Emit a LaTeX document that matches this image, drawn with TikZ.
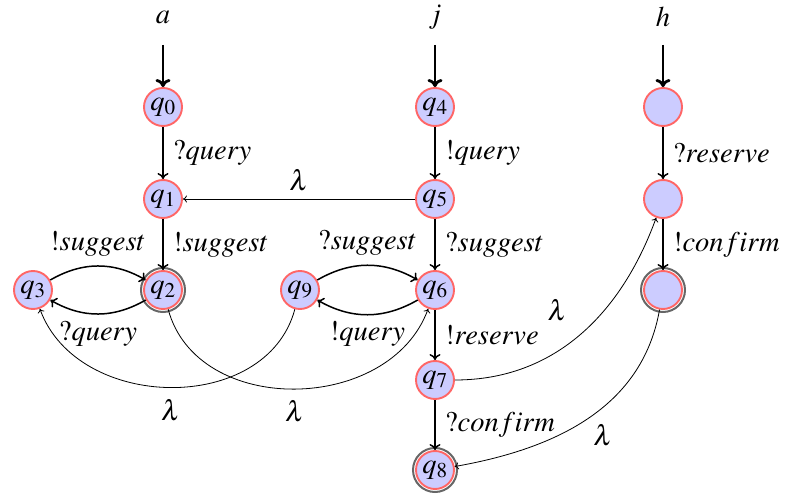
\documentclass[tikz,border=0pt]{standalone}
\usepackage{mathptmx}
\usetikzlibrary{arrows.meta}
\begin{document}
\begin{tikzpicture}[x=1pt,y=-1pt,
  every node/.style={font=\fontsize{28.5}{32}\selectfont},
  st/.style={circle, draw=red!60, fill=blue!20, line width=1.9pt, minimum size=38pt, inner sep=0pt},
  accring/.style={draw=black!60, line width=2pt},
  tr/.style={-{To[length=6pt,width=11pt]}, line width=1.5pt},
  lam/.style={-{To[length=4pt,width=7pt]}, line width=0.8pt},
  ini/.style={-{To[length=8pt,width=15pt]}, line width=2.8pt},
  ttl/.style={inner sep=0pt}]
\useasboundingbox (0,0) rectangle (785,497);
% titles
\node[ttl] (ta) at (163,17) {$a$};
\node[ttl] (tj) at (435,17) {$j$};
\node[ttl] (th) at (663,17) {$h$};
\coordinate (ia) at (163,45);
\coordinate (ij) at (435,45);
\coordinate (ih) at (663,45);
% states
\node[st] (q0) at (163,107) {$q_0$};
\node[st] (q1) at (163,199) {$q_1$};
\draw[accring] (163,290) circle (22);
\node[st] (q2) at (163,290) {$q_2$};
\node[st] (q3) at (33,290) {$q_3$};
\node[st] (q4) at (435,107) {$q_4$};
\node[st] (q5) at (435,199) {$q_5$};
\node[st] (q6) at (435,290) {$q_6$};
\node[st] (q7) at (435,380) {$q_7$};
\draw[accring] (435,470) circle (22);
\node[st] (q8) at (435,470) {$q_8$};
\node[st] (q9) at (300,290) {$q_9$};
\node[st] (h0) at (663,107) {};
\node[st] (h1) at (663,199) {};
\draw[accring] (663,290) circle (22);
\node[st] (h2) at (663,290) {};
% initial
\draw[ini] (ia) -- (q0);
\draw[ini] (ij) -- (q4);
\draw[ini] (ih) -- (h0);
% transitions
\draw[tr] (q0) -- node[right=6pt]{$?query$} (q1);
\draw[tr] (q1) -- node[right=6pt]{$!suggest$} (q2);
\draw[tr] (q3) to[bend left=30] node[above=6pt]{$!suggest$} (q2);
\draw[tr] (q2) to[bend left=30] node[below=3pt]{$?query$} (q3);
\draw[tr] (q4) -- node[right=6pt]{$!query$} (q5);
\draw[tr] (q5) -- node[right=6pt]{$?suggest$} (q6);
\draw[tr] (q9) to[bend left=30] node[above=6pt]{$?suggest$} (q6);
\draw[tr] (q6) to[bend left=30] node[below=3pt]{$!query$} (q9);
\draw[tr] (q6) -- node[right=6pt]{$!reserve$} (q7);
\draw[tr] (q7) -- node[right=6pt]{$?confirm$} (q8);
\draw[tr] (h0) -- node[right=6pt]{$?reserve$} (h1);
\draw[tr] (h1) -- node[right=6pt]{$!confirm$} (h2);
% lambda transitions
\draw[lam] (q5) -- node[above=4pt]{$\lambda$} (q1);
\draw[lam] (q9) to[out=-105,in=-70,looseness=1.1] node[below=8pt]{$\lambda$} (q3);
\draw[lam] (q2) to[out=-75,in=-110,looseness=1.1] node[below=8pt]{$\lambda$} (q6);
\draw[lam] (q7) to[out=0,in=-110,looseness=1] node[above left=10pt]{$\lambda$} (h1);
\draw[lam] (h2) to[out=-100,in=10,looseness=1] node[below right=2pt]{$\lambda$} (q8);
\end{tikzpicture}
\end{document}
